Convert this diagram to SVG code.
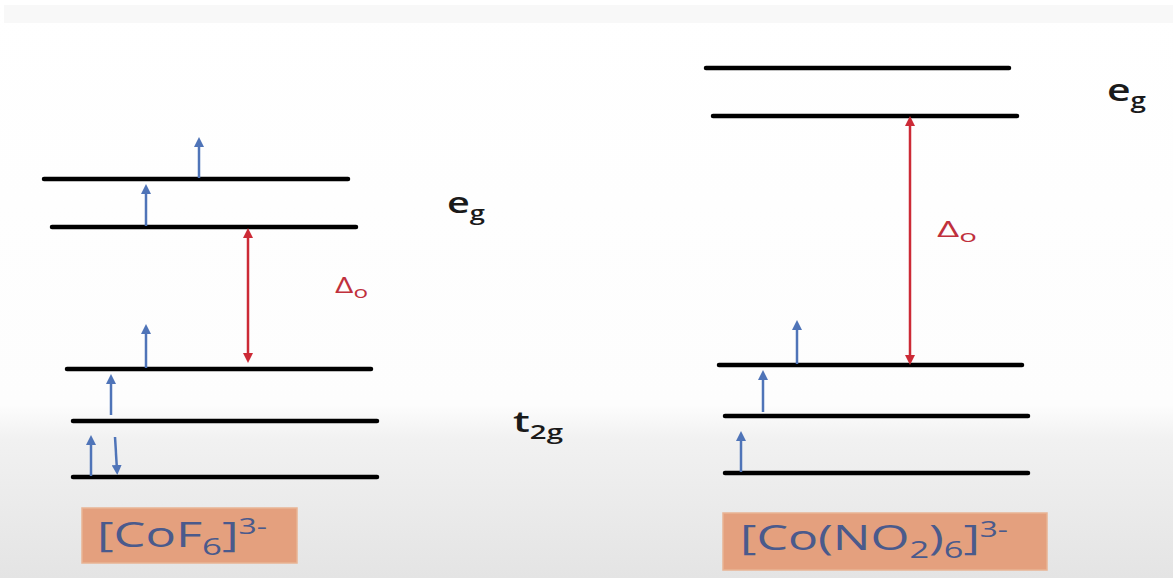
<svg xmlns="http://www.w3.org/2000/svg" width="1173" height="578" viewBox="0 0 1173 578">
<defs>
<linearGradient id="bg" x1="0" y1="0" x2="0" y2="1">
<stop offset="0" stop-color="#ffffff"/>
<stop offset="0.7" stop-color="#fdfdfd"/>
<stop offset="0.76" stop-color="#f1f1f1"/>
<stop offset="1" stop-color="#e4e4e4"/>
</linearGradient>
<marker id="bh" viewBox="0 0 10 10" refX="5" refY="5" markerWidth="4" markerHeight="4" orient="auto-start-reverse" markerUnits="strokeWidth">
<path d="M0,0 L10,5 L0,10 z" fill="#4f74b8"/>
</marker>
<marker id="rh" viewBox="0 0 10 10" refX="5" refY="5" markerWidth="4" markerHeight="4" orient="auto-start-reverse" markerUnits="strokeWidth">
<path d="M0,0 L10,5 L0,10 z" fill="#cc2a36"/>
</marker>
<style>
.lvl{stroke:#000;stroke-width:4.5;stroke-linecap:round}
.e{stroke:#4f74b8;stroke-width:2.5;marker-end:url(#bh)}
.gap{stroke:#cc2a36;stroke-width:2.5;marker-start:url(#rh);marker-end:url(#rh)}
.lab{font-family:"Open Sans","Noto Sans",sans-serif;fill:#1a1a1a;font-weight:600}
.del{font-family:"Open Sans","Noto Sans",sans-serif;fill:#c0303c}
.box{fill:#e4a07e;stroke:#e9b494;stroke-width:1.5}
.bt{font-family:"Open Sans","Noto Sans",sans-serif;fill:#4a5a8c;font-size:35px}
</style>
</defs>
<rect width="1173" height="578" fill="url(#bg)"/>
<rect x="4" y="5" width="1169" height="18" fill="#f8f8f8"/>

<g id="cof6-levels">
<line class="lvl" x1="44" y1="179" x2="348" y2="179"/>
<line class="lvl" x1="52" y1="227" x2="356" y2="227"/>
<line class="lvl" x1="67" y1="369" x2="371" y2="369"/>
<line class="lvl" x1="73" y1="421" x2="377" y2="421"/>
<line class="lvl" x1="73" y1="477" x2="377" y2="477"/>
</g>
<g id="conno2-levels">
<line class="lvl" x1="706" y1="68" x2="1009" y2="68"/>
<line class="lvl" x1="713" y1="116" x2="1017" y2="116"/>
<line class="lvl" x1="719" y1="365" x2="1022" y2="365"/>
<line class="lvl" x1="725" y1="416" x2="1028" y2="416"/>
<line class="lvl" x1="725" y1="473" x2="1028" y2="473"/>
</g>

<g id="connectors">
<line class="e" x1="199" y1="178" x2="199" y2="142"/>
<line class="e" x1="146" y1="226" x2="146" y2="189"/>
<line class="e" x1="146" y1="368" x2="146" y2="329"/>
<line class="e" x1="111" y1="415" x2="111" y2="379"/>
<line class="e" x1="91" y1="476" x2="91" y2="440"/>
<line class="e" x1="115" y1="437" x2="117" y2="470"/>
<line class="gap" x1="248" y1="233" x2="248" y2="358"/>
<line class="e" x1="797" y1="364" x2="797" y2="325"/>
<line class="e" x1="763" y1="412" x2="763" y2="375"/>
<line class="e" x1="741" y1="472" x2="741" y2="436"/>
<line class="gap" x1="910" y1="121" x2="910" y2="360"/>
</g>

<g id="labels">
<text class="del" x="335" y="293" font-size="21" textLength="33" lengthAdjust="spacingAndGlyphs">Δ<tspan font-size="16" dy="5">o</tspan></text>
<text class="lab" x="447" y="213" font-size="29" textLength="38" lengthAdjust="spacingAndGlyphs">e<tspan font-size="20" dy="7">g</tspan></text>
<text class="lab" x="513" y="432" font-size="29" textLength="50" lengthAdjust="spacingAndGlyphs">t<tspan font-size="20" dy="7">2g</tspan></text>
<text class="del" x="937" y="237" font-size="21" textLength="40" lengthAdjust="spacingAndGlyphs">Δ<tspan font-size="16" dy="5">o</tspan></text>
<text class="lab" x="1107" y="101" font-size="31" textLength="39" lengthAdjust="spacingAndGlyphs">e<tspan font-size="21" dy="7">g</tspan></text>
</g>

<g id="cof6-box">
<rect class="box" x="82" y="508" width="215" height="55"/>
<text class="bt" x="97" y="547" textLength="170" lengthAdjust="spacingAndGlyphs">[CoF<tspan font-size="24" dy="8">6</tspan><tspan dy="-8">]</tspan><tspan font-size="22" dy="-13">3-</tspan></text>
</g>
<g id="conno2-box">
<rect class="box" x="723" y="513" width="324" height="57"/>
<text class="bt" x="740" y="550" textLength="268" lengthAdjust="spacingAndGlyphs">[Co(NO<tspan font-size="24" dy="8">2</tspan><tspan dy="-8">)</tspan><tspan font-size="24" dy="8">6</tspan><tspan dy="-8">]</tspan><tspan font-size="22" dy="-13">3-</tspan></text>
</g>
</svg>
